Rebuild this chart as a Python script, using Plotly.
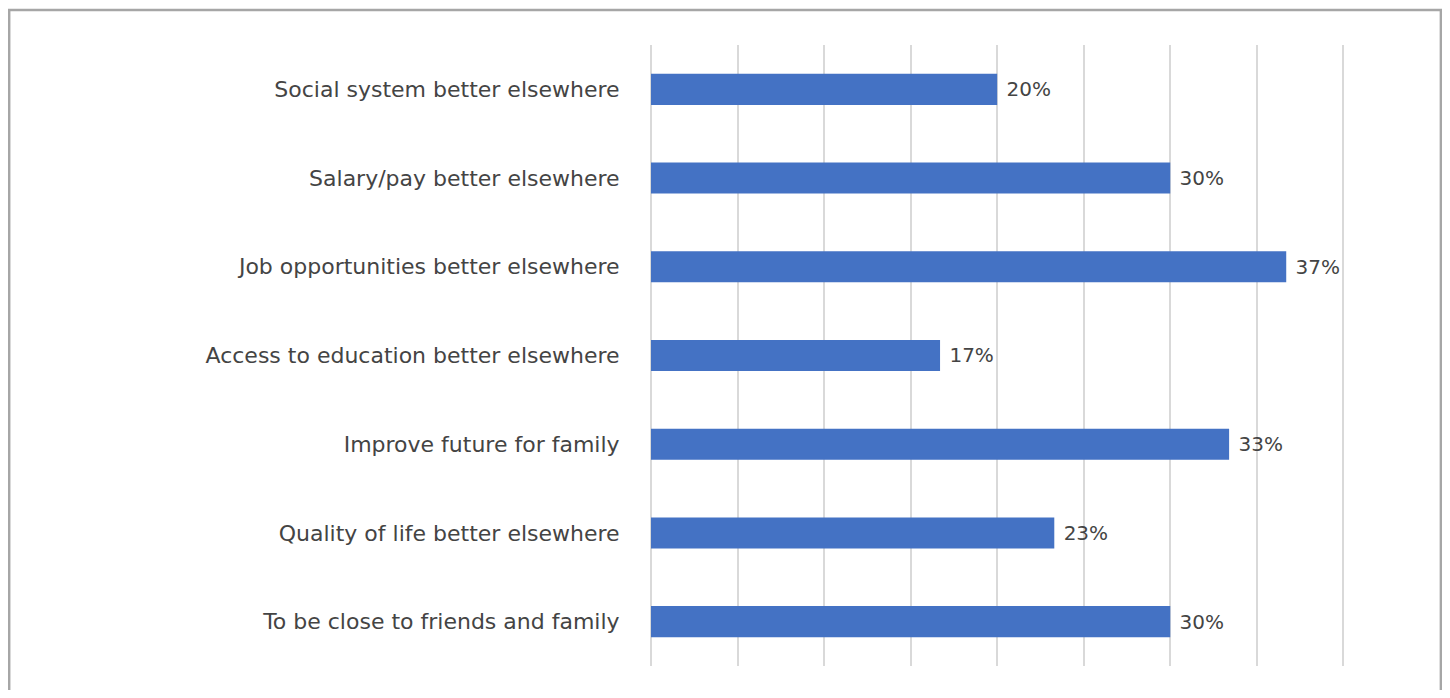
import plotly.graph_objects as go

categories = [
    "Social system better elsewhere",
    "Salary/pay better elsewhere",
    "Job opportunities better elsewhere",
    "Access to education better elsewhere",
    "Improve future for family",
    "Quality of life better elsewhere",
    "To be close to friends and family",
]
values = [0.20, 0.30, 0.367, 0.167, 0.334, 0.233, 0.30]
labels = ["20%", "30%", "37%", "17%", "33%", "23%", "30%"]

FONT = "DejaVu Sans"
TXT = "#444444"

fig = go.Figure(go.Bar(
    x=values, y=categories, orientation="h",
    marker=dict(color="#4472C4", line=dict(width=0)),
    text=labels, texttemplate=" %{text}", textposition="outside", cliponaxis=False,
    textfont=dict(family=FONT, size=20, color=TXT),
    width=0.35,
))

OFF = 8  # page body margin
W, H = 1450 - 2 * OFF, 698 - 2 * OFF
XMAX = 0.405
x0p, x40p = 651, 1343
x_right = x0p + (x40p - x0p) * XMAX / 0.40
L, R, T, B = x0p - OFF, W - (x_right - OFF), 45 - OFF, H - (666 - OFF)
pw, ph = W - L - R, H - T - B
def px(x): return (x - OFF - L) / pw
def py(y): return (H - B - (y - OFF)) / ph

fig.update_layout(
    width=W, height=H,
    margin=dict(l=L, r=R, t=T, b=B, autoexpand=False),
    paper_bgcolor="white", plot_bgcolor="white",
    showlegend=False,
    font=dict(family=FONT, size=22, color=TXT),
    xaxis=dict(range=[0, XMAX], dtick=0.05, showticklabels=False,
               showgrid=True, gridcolor="#d9d9d9", gridwidth=1.5,
               zeroline=True, zerolinecolor="#d9d9d9", zerolinewidth=1.5,
               showline=False, ticks=""),
    yaxis=dict(categoryorder="array", categoryarray=categories[::-1],
               autorange=False, range=[-0.5, 6.5],
               showgrid=False, zeroline=False, showline=False,
               ticks="outside", ticklen=26, tickcolor="rgba(0,0,0,0)",
               tickfont=dict(family=FONT, size=22, color=TXT)),
    shapes=[dict(type="rect", xref="paper", yref="paper",
                 x0=px(9.5), x1=px(1440.5), y0=py(740), y1=py(10),
                 line=dict(color="#a6a6a6", width=2.5), layer="below")],
)

fig.write_html("out.html")
